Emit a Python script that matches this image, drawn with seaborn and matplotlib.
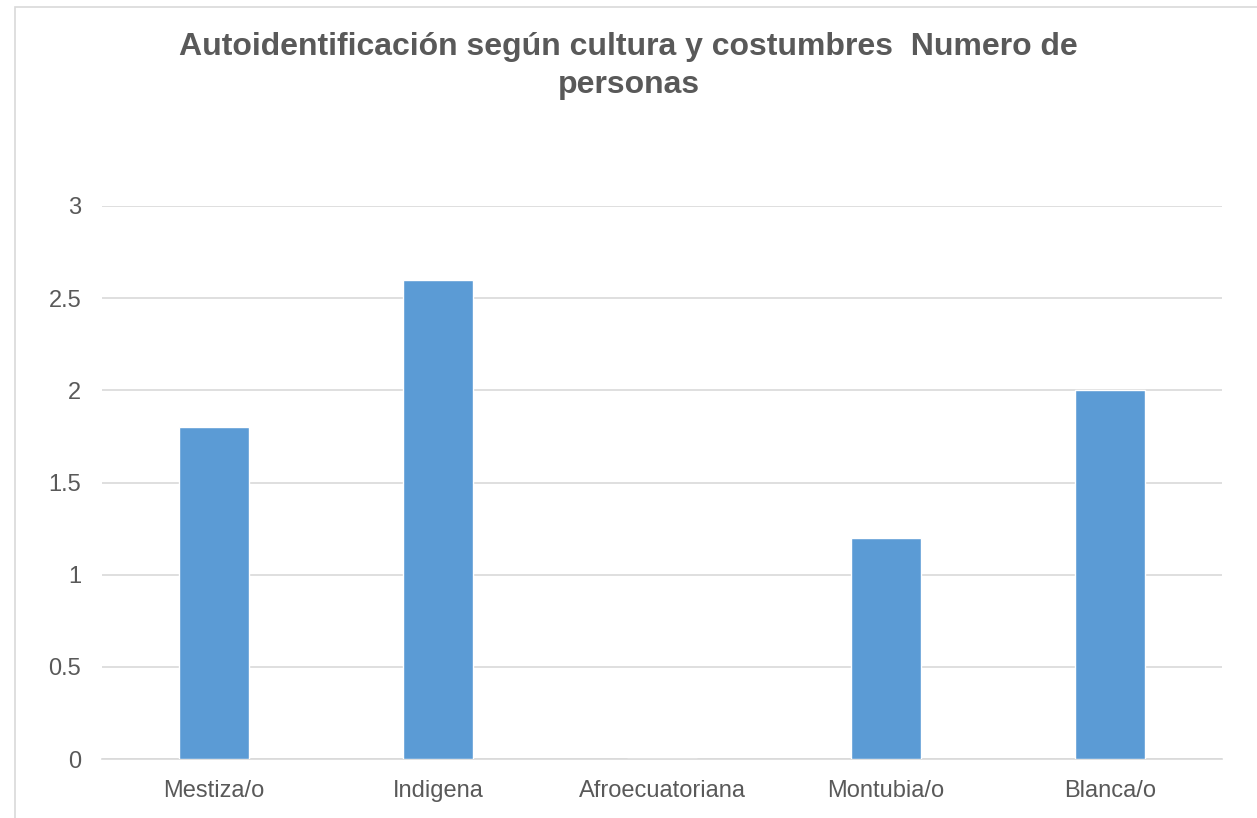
import matplotlib
matplotlib.use("Agg")
import matplotlib.pyplot as plt
import seaborn as sns
import pandas as pd
from matplotlib.patches import Rectangle

categories = ["Mestiza/o", "Indigena", "Afroecuatoriana", "Montubia/o", "Blanca/o"]
values = [1.8, 2.6, 0.0, 1.2, 2.0]
yticks = [0, 0.5, 1, 1.5, 2, 2.5, 3]
ytick_labels = ["0", "0.5", "1", "1.5", "2", "2.5", "3"]
title = "Autoidentificación según cultura y costumbres  Numero de\npersonas"

sns.set_theme(style="white")
plt.rcParams['font.family'] = ['Liberation Sans', 'DejaVu Sans']

df = pd.DataFrame({"cat": categories, "val": values})

fig = plt.figure(figsize=(12.57, 8.18), dpi=100)
fig.patch.set_facecolor("white")
fig.add_artist(Rectangle((15/1257, -0.1), 1.2, (818-7)/818 + 0.1, transform=fig.transFigure,
                         fill=False, edgecolor="#d9d9d9", linewidth=1.2))
ax = fig.add_axes([102/1257, (818-759)/818, 1120/1257, 553/818])
sns.barplot(data=df, x="cat", y="val", color="#5B9BD5", width=0.3125, saturation=1, ax=ax, zorder=3)
ax.set_ylim(0, 3)
ax.set_yticks(yticks)
ax.set_yticklabels(ytick_labels)
ax.grid(axis="y", color="#d9d9d9", linewidth=1.2, zorder=0)
ax.set_axisbelow(True)
for s in ["top", "right", "left"]:
    ax.spines[s].set_visible(False)
ax.spines["bottom"].set_color("#d9d9d9")
ax.spines["bottom"].set_linewidth(1.2)
ax.set_xlabel("")
ax.set_ylabel("")
ax.tick_params(axis="both", length=0, labelsize=17, colors="#595959")
ax.tick_params(axis="y", pad=15)
ax.tick_params(axis="x", pad=15)
fig.text(0.5, (818-66)/818, title, ha="center", va="center", fontsize=23, fontweight="bold",
         color="#595959", linespacing=1.38)
fig.savefig("out.png", dpi=100)
